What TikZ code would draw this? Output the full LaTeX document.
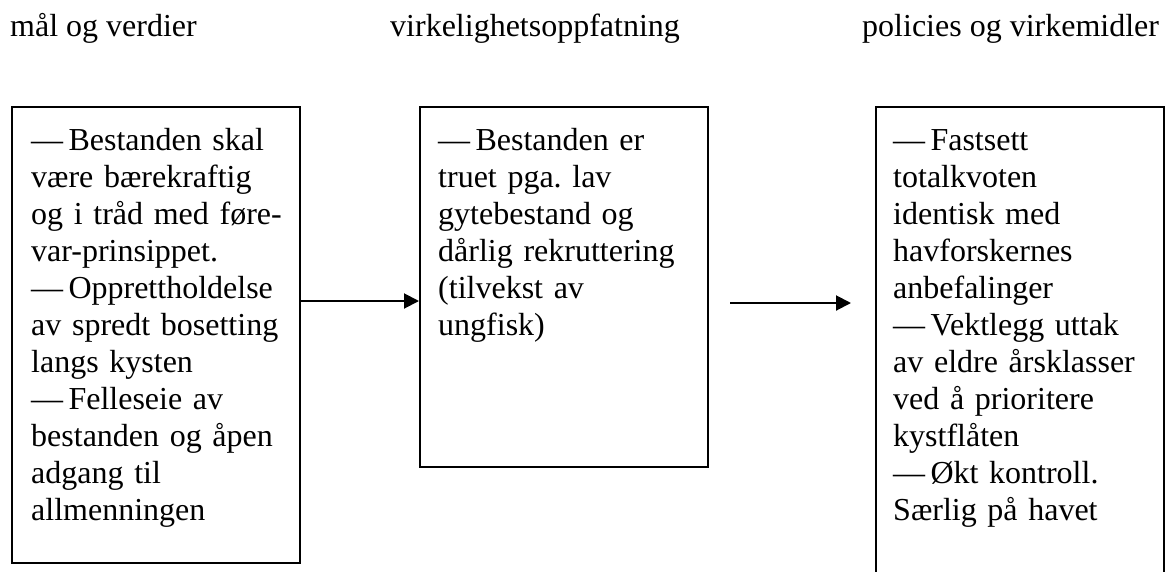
\documentclass[tikz,border=0pt]{standalone}
\usepackage{fontspec}
\setmainfont{Liberation Serif}
\usetikzlibrary{arrows.meta}
\tikzset{
  kasse/.style={draw, line width=2.4pt, minimum width=288pt, anchor=north west, inner sep=0pt},
  tekst/.style={anchor=base west, inner sep=0pt, text width=255pt, align=left, font=\fontsize{32pt}{37pt}\selectfont\frenchspacing},
  overskrift/.style={anchor=base west, inner sep=0pt, font=\fontsize{32pt}{37pt}\selectfont},
  pil/.style={line width=2pt, -{Triangle[length=15pt,width=15pt]}}
}
\begin{document}
\begin{tikzpicture}[x=1pt,y=-1pt]
\useasboundingbox (0,0) rectangle (1165,571);
\clip (0,0) rectangle (1165,571);

\node[overskrift] (mal) at (10,36) {mål og verdier};
\node[overskrift] (virk) at (390,36) {virkelighetsoppfatning};
\node[overskrift] (pol) at (862,36) {policies og virkemidler};

\node[kasse, minimum height=456pt] (box1) at (11,106) {};
\node[kasse, minimum height=360pt] (box2) at (419,106) {};
\node[kasse, minimum height=520pt] (box3) at (875,106) {};

\node[tekst] (txt1) at ([shift={(20,44)}]box1.north west)
  {—\,Bestanden skal\\ være bærekraftig\\ og i tråd med føre-\\ var-prinsippet.\\
   —\,Opprettholdelse\\ av spredt bosetting\\ langs kysten\\ —\,Felleseie av\\
   bestanden og åpen\\ adgang til\\ allmenningen};
\node[tekst] (txt2) at ([shift={(19,44)}]box2.north west)
  {—\,Bestanden er\\ truet pga. lav\\ gytebestand og\\ dårlig rekruttering\\ (tilvekst av\\ ungfisk)};
\node[tekst] (txt3) at ([shift={(18,44)}]box3.north west)
  {—\,Fastsett\\ totalkvoten\\ identisk med\\ havforskernes\\ anbefalinger\\
   —\,Vektlegg uttak\\ av eldre årsklasser\\ ved å prioritere\\ kystflåten\\
   —\,Økt kontroll.\\ Særlig på havet};

% piler
\coordinate (p1) at (0,301);
\coordinate (p2s) at (730,303);
\coordinate (p2e) at (851,303);
\draw[pil] (box1.east |- p1) -- (box2.west |- p1);
\draw[pil] (p2s) -- (p2e);
\end{tikzpicture}
\end{document}
